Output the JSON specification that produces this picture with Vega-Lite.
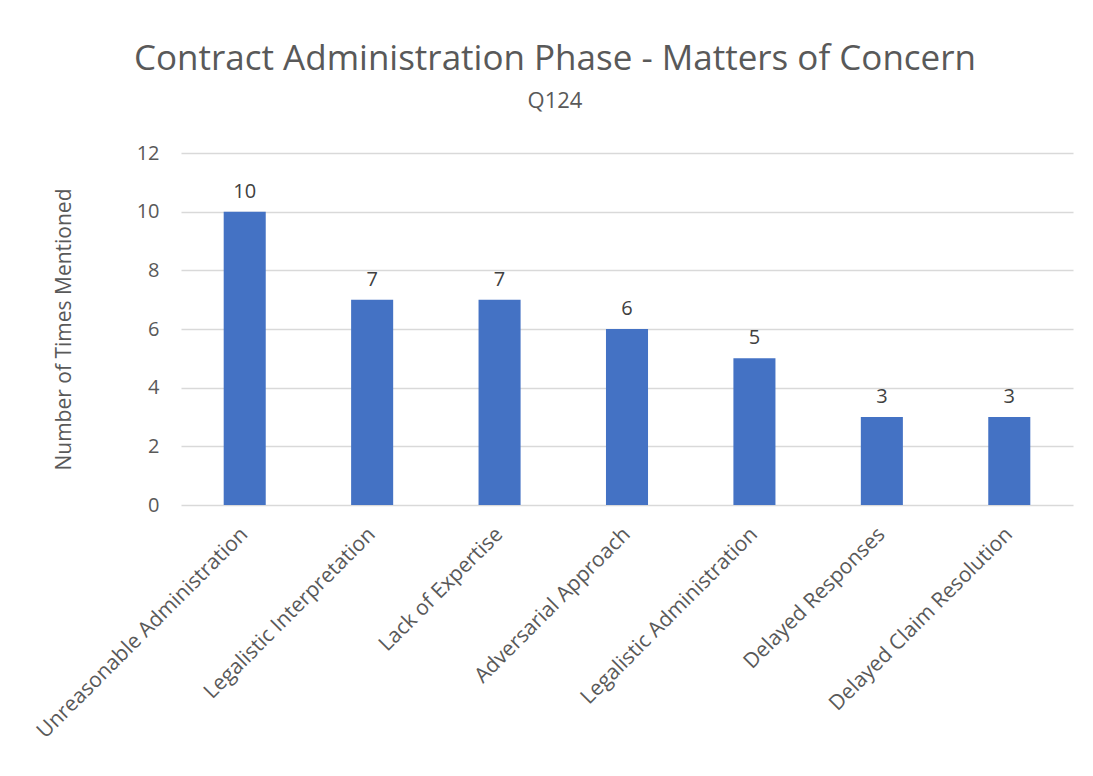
{
  "$schema": "https://vega.github.io/schema/vega-lite/v6.json",
  "autosize": "none",
  "width": 892,
  "height": 352,
  "padding": {"left": 181, "top": 153, "right": 20, "bottom": 271},
  "background": "white",
  "title": {
    "text": "Contract Administration Phase - Matters of Concern",
    "subtitle": "Q124",
    "anchor": "middle",
    "frame": "group",
    "dx": -72,
    "offset": 31,
    "font": "Open Sans",
    "fontSize": 35,
    "fontWeight": "normal",
    "color": "#595959",
    "subtitleFont": "Open Sans",
    "subtitleFontSize": 22,
    "subtitleColor": "#595959",
    "subtitlePadding": 14
  },
  "data": {
    "values": [
      {"category": "Unreasonable Administration", "count": 10},
      {"category": "Legalistic Interpretation", "count": 7},
      {"category": "Lack of Expertise", "count": 7},
      {"category": "Adversarial Approach", "count": 6},
      {"category": "Legalistic Administration", "count": 5},
      {"category": "Delayed Responses", "count": 3},
      {"category": "Delayed Claim Resolution", "count": 3}
    ]
  },
  "encoding": {
    "x": {
      "field": "category",
      "type": "nominal",
      "sort": null,
      "scale": {"paddingInner": 0.67, "paddingOuter": 0.335},
      "axis": {
        "title": null,
        "labelAngle": -45,
        "labelAlign": "right",
        "labelBaseline": "middle",
        "labelFont": "Open Sans",
        "labelFontSize": 21,
        "labelColor": "#595959",
        "labelPadding": 26,
        "ticks": false,
        "domain": false,
        "grid": false,
        "labelLimit": 500
      }
    },
    "y": {
      "field": "count",
      "type": "quantitative",
      "scale": {"domain": [0, 12]},
      "axis": {
        "title": "Number of Times Mentioned",
        "titleFont": "Open Sans",
        "titleFontSize": 21,
        "titleFontWeight": "normal",
        "titleColor": "#595959",
        "titlePadding": 62,
        "values": [0, 2, 4, 6, 8, 10, 12],
        "labelFont": "Open Sans",
        "labelFontSize": 20,
        "labelColor": "#595959",
        "labelPadding": 22,
        "ticks": false,
        "domain": false,
        "gridColor": "#d9d9d9",
        "gridWidth": 1.5
      }
    }
  },
  "layer": [
    {"mark": {"type": "bar", "color": "#4472c4"}},
    {
      "mark": {"type": "text", "baseline": "bottom", "dy": -10, "font": "Open Sans", "fontSize": 20, "color": "#404040"},
      "encoding": {"text": {"field": "count", "type": "quantitative"}}
    }
  ],
  "config": {"view": {"stroke": null}}
}
